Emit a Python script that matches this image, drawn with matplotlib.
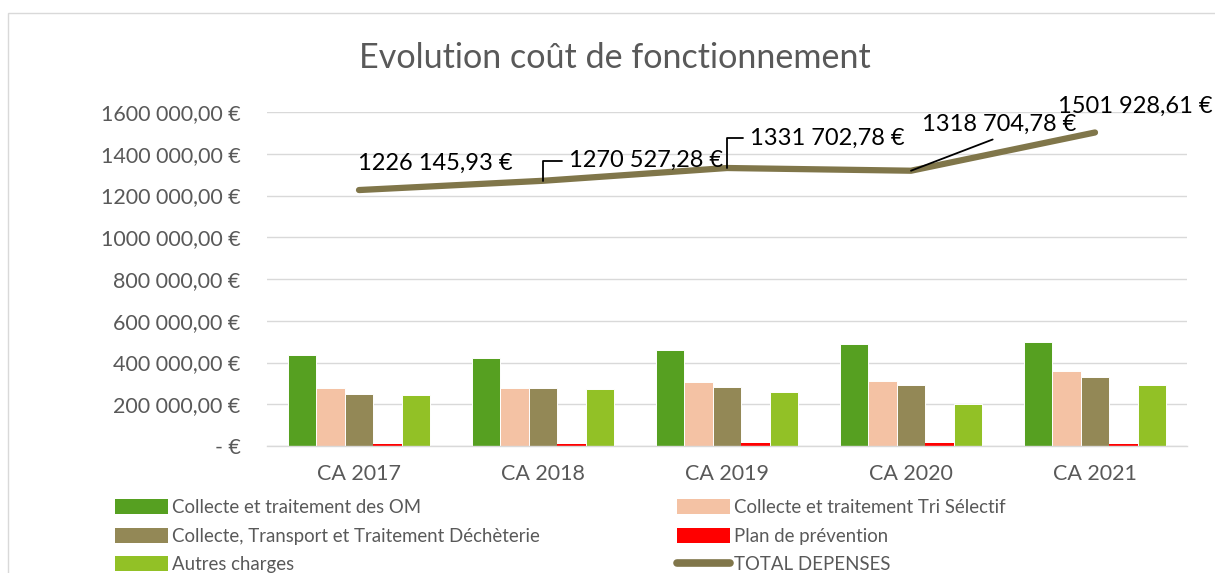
import matplotlib
matplotlib.use("Agg")
import matplotlib.pyplot as plt
from matplotlib.lines import Line2D
from matplotlib.patches import Patch, Rectangle
import numpy as np

# ---- data ----
years = ["CA 2017", "CA 2018", "CA 2019", "CA 2020", "CA 2021"]
collecte_om = [435000, 422000, 460000, 489000, 497000]
tri_selectif = [278000, 280000, 308000, 312000, 361000]
decheterie = [251000, 280000, 283000, 294000, 332000]
prevention = [10000, 9000, 14000, 12000, 10000]
autres = [246000, 273000, 260000, 201000, 293000]
total = [1226145.93, 1270527.28, 1331702.78, 1318704.78, 1501928.61]

series_names = [
    "Collecte et traitement des OM",
    "Collecte et traitement Tri Sélectif",
    "Collecte, Transport et Traitement Déchèterie",
    "Plan de prévention",
    "Autres charges",
]
total_name = "TOTAL DEPENSES"
title = "Evolution coût de fonctionnement"

COLORS = ["#56A021", "#F4C2A4", "#938856", "#FF0000", "#92C126"]
LINE_COLOR = "#80764A"
GRID = "#D9D9D9"
TXT = "#595959"

plt.rcParams["font.family"] = ["Lato", "DejaVu Sans"]
FS = 15.5        # axis ticks
FS_LBL = 17      # data labels on the total line
FS_LEG = 13.4    # legend


def euro(v):
    if v == 0:
        return "- €"
    cents = int(round(v * 100))
    whole, c = divmod(cents, 100)
    th, rest = divmod(whole, 1000)
    if th:
        return f"{th} {rest:03d},{c:02d} €"
    return f"{rest},{c:02d} €"


W, H = 1215, 573
fig = plt.figure(figsize=(W / 100, H / 100), dpi=100)
fig.patch.set_facecolor("white")

# outer chart frame (cropped on right and bottom)
fig.patches.append(Rectangle((8 / W, -0.2), 1.2, 1 - 13 / H + 0.2, transform=fig.transFigure,
                             fill=False, edgecolor=GRID, linewidth=1.0))

ax = fig.add_axes([267 / W, 1 - 446 / H, 920 / W, (446 - 112) / H])

x = np.arange(len(years))
bw = 0.154
all_series = [collecte_om, tri_selectif, decheterie, prevention, autres]
for k, (vals, col) in enumerate(zip(all_series, COLORS)):
    edge = "none" if k == 3 else "white"
    ax.bar(x + (k - 2) * bw, vals, width=bw, color=col, edgecolor=edge,
           linewidth=0.7, zorder=2)

ax.plot(x, total, color=LINE_COLOR, linewidth=4.5, solid_capstyle="round", zorder=3)

# data labels for the total line: (dx, dy) in pixels, leader style
label_pos = [(-1, 27, None), (26, 20, "angle"), (23, 30, "angle"), (11, 46, "diag"), (-37, 26, None)]
for i, (v, (dx, dy, lead)) in enumerate(zip(total, label_pos)):
    arrow = None
    if lead == "angle":
        arrow = dict(arrowstyle="-", color="black", lw=1.3, relpos=(0, 0.5),
                     connectionstyle="angle,angleA=0,angleB=90,rad=0", shrinkA=3, shrinkB=0)
    elif lead == "diag":
        arrow = dict(arrowstyle="-", color="black", lw=1.3, relpos=(0.53, 0),
                     connectionstyle="arc3", shrinkA=3, shrinkB=0)
    ax.annotate(euro(v), xy=(i, v), xytext=(dx, dy), textcoords="offset pixels",
                ha="left", va="center", fontsize=FS_LBL, color="black",
                arrowprops=arrow, zorder=4, annotation_clip=False)

ax.set_xlim(-0.5, len(years) - 0.5)
ax.set_ylim(0, 1600000)
ax.set_yticks(np.arange(0, 1600001, 200000))
ax.set_yticklabels([euro(t) for t in np.arange(0, 1600001, 200000)])
ax.set_xticks(x)
ax.set_xticklabels(years)
ax.tick_params(axis="both", length=0, labelsize=FS, labelcolor=TXT)
ax.tick_params(axis="y", pad=19)
ax.tick_params(axis="x", pad=13)
for s in ["top", "right", "left"]:
    ax.spines[s].set_visible(False)
ax.spines["bottom"].set_color(GRID)
ax.spines["bottom"].set_linewidth(1.0)
ax.grid(axis="y", color=GRID, linewidth=1.0, zorder=0)
ax.set_axisbelow(True)

fig.text(614.5 / W, 1 - 58 / H, title, ha="center", va="center", fontsize=24.6, color=TXT)

# legend, Excel row order -> reorder for column-major fill
h = [Patch(facecolor=c, edgecolor="none") for c in COLORS]
h_line = Line2D([0], [0], color=LINE_COLOR, linewidth=5.5, solid_capstyle="round")
handles = [h[0], h[2], h[4], h[1], h[3], h_line]
labels = [series_names[0], series_names[2], series_names[4],
          series_names[1], series_names[3], total_name]
leg = fig.legend(handles, labels, ncol=2, loc="upper left",
                 bbox_to_anchor=(115 / W, 1 - 499 / H), frameon=False,
                 fontsize=FS_LEG, handlelength=2.85, handleheight=0.85,
                 handletextpad=0.2, columnspacing=7.4, labelspacing=0.62,
                 borderpad=0, borderaxespad=0)
for t in leg.get_texts():
    t.set_color(TXT)

fig.savefig("out.png", dpi=100, facecolor="white")
